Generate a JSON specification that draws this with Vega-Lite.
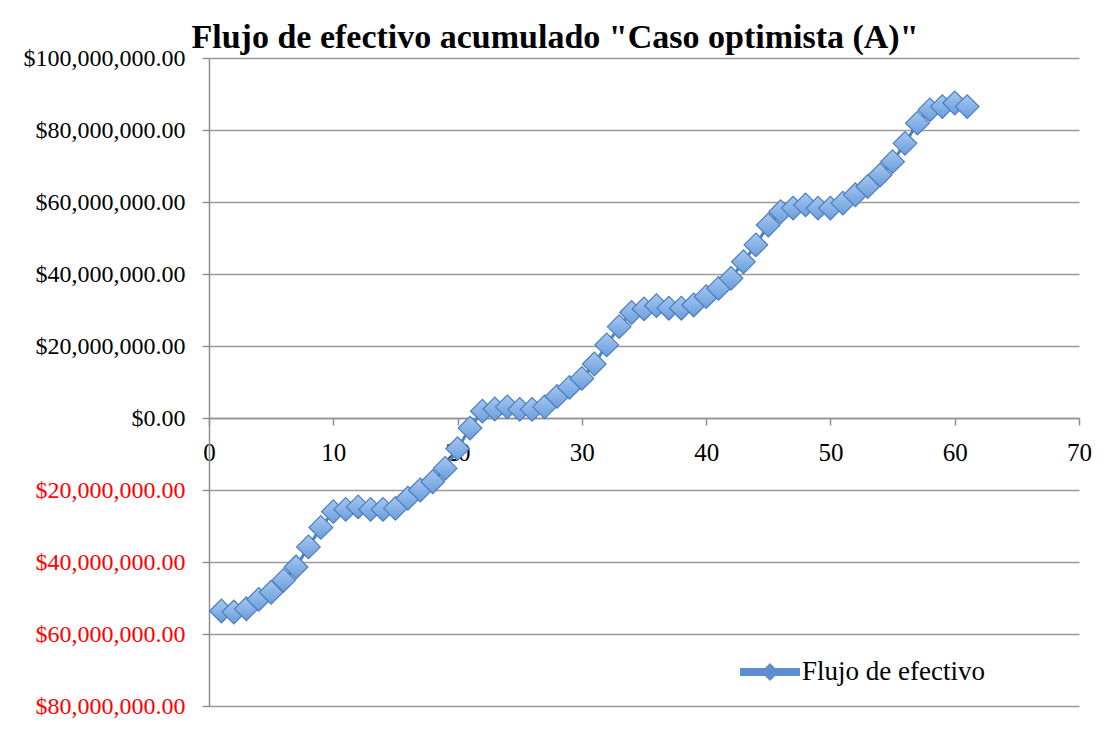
{
  "$schema": "https://vega.github.io/schema/vega-lite/v6.json",
  "autosize": {"type": "none"},
  "width": 870,
  "height": 648,
  "padding": {"left": 209, "top": 58, "right": 25, "bottom": 27},
  "background": "white",
  "config": {"view": {"stroke": null}, "font": "Liberation Serif"},
  "title": {
    "text": "Flujo de efectivo acumulado \"Caso optimista (A)\"",
    "font": "Liberation Serif",
    "fontSize": 34,
    "fontWeight": "bold",
    "color": "black",
    "anchor": "middle",
    "frame": "group",
    "dx": -89,
    "dy": 36,
    "baseline": "alphabetic",
    "offset": 0
  },
  "data": {
    "values": [
      {"periodo": 1, "flujo": -53600000},
      {"periodo": 2, "flujo": -53900000},
      {"periodo": 3, "flujo": -53000000},
      {"periodo": 4, "flujo": -50400000},
      {"periodo": 5, "flujo": -48400000},
      {"periodo": 6, "flujo": -45100000},
      {"periodo": 7, "flujo": -41400000},
      {"periodo": 8, "flujo": -35800000},
      {"periodo": 9, "flujo": -30400000},
      {"periodo": 10, "flujo": -26000000},
      {"periodo": 11, "flujo": -25400000},
      {"periodo": 12, "flujo": -24700000},
      {"periodo": 13, "flujo": -25400000},
      {"periodo": 14, "flujo": -25400000},
      {"periodo": 15, "flujo": -25100000},
      {"periodo": 16, "flujo": -22300000},
      {"periodo": 17, "flujo": -20000000},
      {"periodo": 18, "flujo": -17700000},
      {"periodo": 19, "flujo": -14000000},
      {"periodo": 20, "flujo": -8500000},
      {"periodo": 21, "flujo": -2800000},
      {"periodo": 22, "flujo": 1900000},
      {"periodo": 23, "flujo": 2500000},
      {"periodo": 24, "flujo": 3100000},
      {"periodo": 25, "flujo": 2400000},
      {"periodo": 26, "flujo": 2400000},
      {"periodo": 27, "flujo": 3100000},
      {"periodo": 28, "flujo": 6000000},
      {"periodo": 29, "flujo": 8500000},
      {"periodo": 30, "flujo": 11000000},
      {"periodo": 31, "flujo": 15000000},
      {"periodo": 32, "flujo": 20300000},
      {"periodo": 33, "flujo": 25400000},
      {"periodo": 34, "flujo": 29300000},
      {"periodo": 35, "flujo": 30300000},
      {"periodo": 36, "flujo": 31200000},
      {"periodo": 37, "flujo": 30500000},
      {"periodo": 38, "flujo": 30500000},
      {"periodo": 39, "flujo": 31400000},
      {"periodo": 40, "flujo": 33700000},
      {"periodo": 41, "flujo": 36000000},
      {"periodo": 42, "flujo": 38800000},
      {"periodo": 43, "flujo": 43400000},
      {"periodo": 44, "flujo": 48100000},
      {"periodo": 45, "flujo": 53600000},
      {"periodo": 46, "flujo": 57300000},
      {"periodo": 47, "flujo": 58300000},
      {"periodo": 48, "flujo": 59200000},
      {"periodo": 49, "flujo": 58300000},
      {"periodo": 50, "flujo": 58300000},
      {"periodo": 51, "flujo": 59700000},
      {"periodo": 52, "flujo": 62000000},
      {"periodo": 53, "flujo": 64300000},
      {"periodo": 54, "flujo": 67500000},
      {"periodo": 55, "flujo": 71200000},
      {"periodo": 56, "flujo": 76300000},
      {"periodo": 57, "flujo": 81900000},
      {"periodo": 58, "flujo": 85600000},
      {"periodo": 59, "flujo": 86500000},
      {"periodo": 60, "flujo": 87500000},
      {"periodo": 61, "flujo": 86500000}
    ]
  },
  "encoding": {
    "x": {
      "field": "periodo",
      "type": "quantitative",
      "scale": {"domain": [0, 70], "nice": false, "zero": false},
      "axis": {
        "title": null,
        "values": [0, 10, 20, 30, 40, 50, 60, 70],
        "offset": -288,
        "grid": false,
        "domain": true,
        "domainColor": "#8F8F8F",
        "domainWidth": 1.5,
        "tickColor": "#8F8F8F",
        "tickWidth": 1.5,
        "tickSize": 7,
        "labelFont": "Liberation Serif",
        "labelFontSize": 25,
        "labelColor": "black",
        "labelPadding": 15,
        "labelFlush": false,
        "labelOverlap": false
      }
    },
    "y": {
      "field": "flujo",
      "type": "quantitative",
      "scale": {"domain": [-80000000, 100000000], "nice": false, "zero": false},
      "axis": {
        "title": null,
        "values": [-80000000, -60000000, -40000000, -20000000, 0, 20000000, 40000000, 60000000, 80000000, 100000000],
        "labelExpr": "'$' + format(abs(datum.value), ',.2f')",
        "labelColor": {"condition": {"test": "datum.value < 0", "value": "#FF0000"}, "value": "black"},
        "labelFont": "Liberation Serif",
        "labelFontSize": 24,
        "labelPadding": 17,
        "labelOverlap": false,
        "labelFlush": false,
        "tickSize": 7,
        "tickColor": "#8F8F8F",
        "tickWidth": 1.5,
        "domainColor": "#8F8F8F",
        "domainWidth": 1.5,
        "grid": true,
        "gridColor": "#9A9A9A",
        "gridWidth": 1.5
      }
    }
  },
  "layer": [
    {
      "mark": {"type": "line", "strokeWidth": 3},
      "encoding": {
        "color": {
          "datum": "Flujo de efectivo",
          "scale": {"range": ["#4F81BD"]},
          "legend": {
            "title": null,
            "orient": "none",
            "legendX": 531,
            "legendY": 584,
            "symbolType": "M-1,-0.13H1V0.13H-1Z M0,-0.3L0.3,0L0,0.3L-0.3,0Z",
            "symbolSize": 3600,
            "symbolFillColor": "#5B8FD0",
            "symbolStrokeColor": "#5B8FD0",
            "symbolStrokeWidth": 0,
            "labelFont": "Liberation Serif",
            "labelFontSize": 27,
            "labelColor": "black",
            "labelOffset": 2,
            "labelLimit": 400
          }
        }
      }
    },
    {
      "mark": {
        "type": "point",
        "shape": "diamond",
        "filled": true,
        "size": 560,
        "opacity": 1,
        "fill": {
          "gradient": "linear",
          "x1": 0, "y1": 0, "x2": 0, "y2": 1,
          "stops": [
            {"offset": 0, "color": "#A6C8F2"},
            {"offset": 1, "color": "#6B9CDB"}
          ]
        },
        "stroke": "#4A7EBB",
        "strokeWidth": 1.2
      }
    }
  ]
}
